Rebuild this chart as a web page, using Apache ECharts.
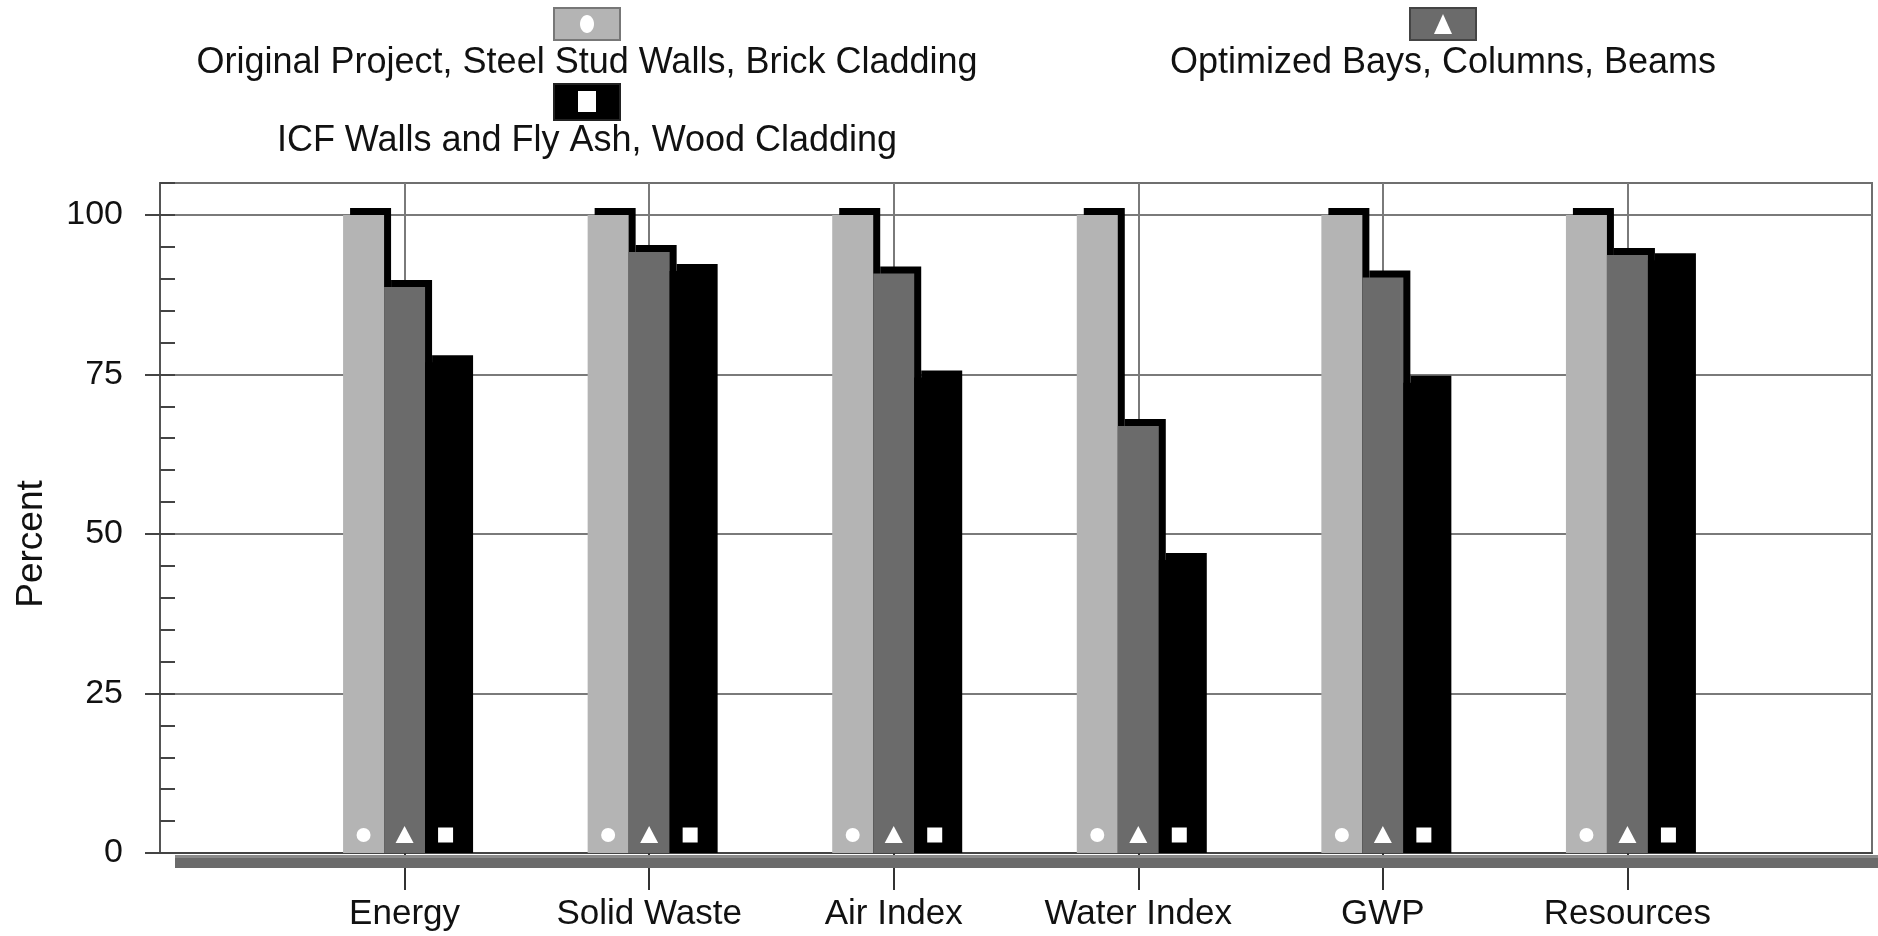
<!DOCTYPE html>
<html><head><meta charset="utf-8">
<script src="https://cdn.jsdelivr.net/npm/echarts@6/dist/echarts.min.js"></script>
<style>html,body{margin:0;padding:0;background:#fff}#c{width:1878px;height:936px}</style>
</head><body><div id="c"></div>
<script>
// ---- data ----
const categories = ['Energy', 'Solid Waste', 'Air Index', 'Water Index', 'GWP', 'Resources'];
const seriesNames = [
  'Original Project, Steel Stud Walls, Brick Cladding',
  'Optimized Bays, Columns, Beams',
  'ICF Walls and Fly Ash, Wood Cladding'
];
const originalValues  = [100, 100, 100, 100, 100, 100];
const optimizedValues = [88.7, 94.2, 90.8, 66.9, 90.2, 93.7];
const icfValues       = [76.9, 91.2, 74.5, 45.9, 73.7, 92.9];
const yTickValues = [0, 25, 50, 75, 100];

// ---- chart ----
const FONT = '"Liberation Sans", Arial, Helvetica, sans-serif';
const colors = ['#b4b4b4', '#6b6b6b', '#000000'];
const xData = ['', ...categories, ''];
const inner = i => i > 0 && i < xData.length - 1;
const DEPTH = 7;

function marker(idx, cx, cy) {
  if (idx === 0) return { type: 'circle', shape: { cx: cx, cy: cy, r: 7 }, style: { fill: '#fff' } };
  if (idx === 1) return { type: 'polygon', shape: { points: [[cx, cy - 9], [cx - 9, cy + 8], [cx + 9, cy + 8]] }, style: { fill: '#fff' } };
  return { type: 'rect', shape: { x: cx - 7.5, y: cy - 7.5, width: 15, height: 15 }, style: { fill: '#fff' } };
}

function renderBar(idx) {
  return function (params, api) {
    const cat = api.value(0);
    const val = api.value(1);
    const band = api.size([1, 0])[0];
    const w = Math.round(band * 0.168);
    const base = api.coord([cat, 0]);
    const top = api.coord([cat, val]);
    const x0 = base[0] - 1.5 * w + idx * w;
    const h = base[1] - top[1];
    return {
      type: 'group',
      children: [
        { type: 'rect', shape: { x: x0 + DEPTH, y: top[1] - DEPTH, width: w, height: h + DEPTH }, style: { fill: '#000' } },
        { type: 'rect', shape: { x: x0, y: top[1], width: w, height: h }, style: { fill: colors[idx] } },
        marker(idx, x0 + w / 2, base[1] - 18)
      ]
    };
  };
}

const valueSets = [originalValues, optimizedValues, icfValues];
const series = valueSets.map((vals, i) => ({
  name: seriesNames[i],
  type: 'custom',
  yAxisIndex: 0,
  renderItem: renderBar(i),
  encode: { x: 0, y: 1 },
  data: categories.map((c, k) => [c, vals[k]]),
  silent: true
}));

const legendFont = '36px ' + FONT;
const graphic = [
  // floor band under the plot
  { type: 'rect', z: 100, shape: { x: 175, y: 855, width: 1703, height: 13 }, style: { fill: '#6b6b6b' } },
  { type: 'rect', z: 101, shape: { x: 175, y: 855, width: 1703, height: 3 }, style: { fill: '#8a8a8a' } },
  // legend item 1
  { type: 'rect', shape: { x: 554, y: 8, width: 66, height: 32 }, style: { fill: colors[0], stroke: '#777', lineWidth: 2 } },
  { type: 'ellipse', shape: { cx: 587, cy: 24, rx: 7, ry: 9 }, style: { fill: '#fff' } },
  { type: 'text', style: { text: seriesNames[0], x: 587, y: 63, font: legendFont, fill: '#111',
      textAlign: 'center', textVerticalAlign: 'middle', align: 'center', verticalAlign: 'middle' } },
  // legend item 2
  { type: 'rect', shape: { x: 1410, y: 8, width: 66, height: 32 }, style: { fill: colors[1], stroke: '#444', lineWidth: 2 } },
  { type: 'polygon', shape: { points: [[1443, 14], [1434, 34], [1452, 34]] }, style: { fill: '#fff' } },
  { type: 'text', style: { text: seriesNames[1], x: 1443, y: 63, font: legendFont, fill: '#111',
      textAlign: 'center', textVerticalAlign: 'middle', align: 'center', verticalAlign: 'middle' } },
  // legend item 3
  { type: 'rect', shape: { x: 554, y: 84, width: 66, height: 36 }, style: { fill: colors[2], stroke: '#222', lineWidth: 2 } },
  { type: 'rect', shape: { x: 578, y: 91, width: 18, height: 21 }, style: { fill: '#fff' } },
  { type: 'text', style: { text: seriesNames[2], x: 587, y: 141, font: legendFont, fill: '#111',
      textAlign: 'center', textVerticalAlign: 'middle', align: 'center', verticalAlign: 'middle' } }
];

const chart = echarts.init(document.getElementById('c'), null, { renderer: 'canvas' });
chart.setOption({
  animation: false,
  backgroundColor: '#fff',
  grid: { left: 160, right: 6, top: 183, bottom: 83, show: true, borderColor: '#6f6f6f', borderWidth: 2, backgroundColor: '#fff' },
  xAxis: {
    type: 'category', data: xData, boundaryGap: false,
    axisLine: { show: true, lineStyle: { color: '#444', width: 2 } },
    axisTick: { show: true, interval: inner, length: 37, lineStyle: { color: '#333', width: 2 } },
    axisLabel: { interval: 0, margin: 44, fontSize: 35, fontFamily: FONT, color: '#111' },
    splitLine: { show: true, interval: inner, lineStyle: { color: '#7a7a7a', width: 2 } }
  },
  yAxis: [
    {
      type: 'value', min: 0, max: 105, interval: 25,
      name: 'Percent', nameLocation: 'middle', nameGap: 110,
      nameTextStyle: { fontSize: 37, fontFamily: FONT, color: '#111', padding: [0, 52, 0, 0] },
      axisLine: { show: true, lineStyle: { color: '#555', width: 2 } },
      axisTick: { show: true, inside: false, length: 15, customValues: yTickValues, lineStyle: { color: '#444', width: 2 } },
      axisLabel: { customValues: yTickValues, margin: 37, fontSize: 34, fontFamily: FONT, color: '#111' },
      splitLine: { show: true, lineStyle: { color: '#7a7a7a', width: 2 } }
    },
    {
      type: 'value', min: 0, max: 105, interval: 5, position: 'left',
      axisLine: { show: false },
      axisTick: { show: true, inside: true, length: 15, lineStyle: { color: '#444', width: 2 } },
      axisLabel: { show: false },
      splitLine: { show: false }
    }
  ],
  series: series,
  graphic: graphic
});
</script>
</body></html>
